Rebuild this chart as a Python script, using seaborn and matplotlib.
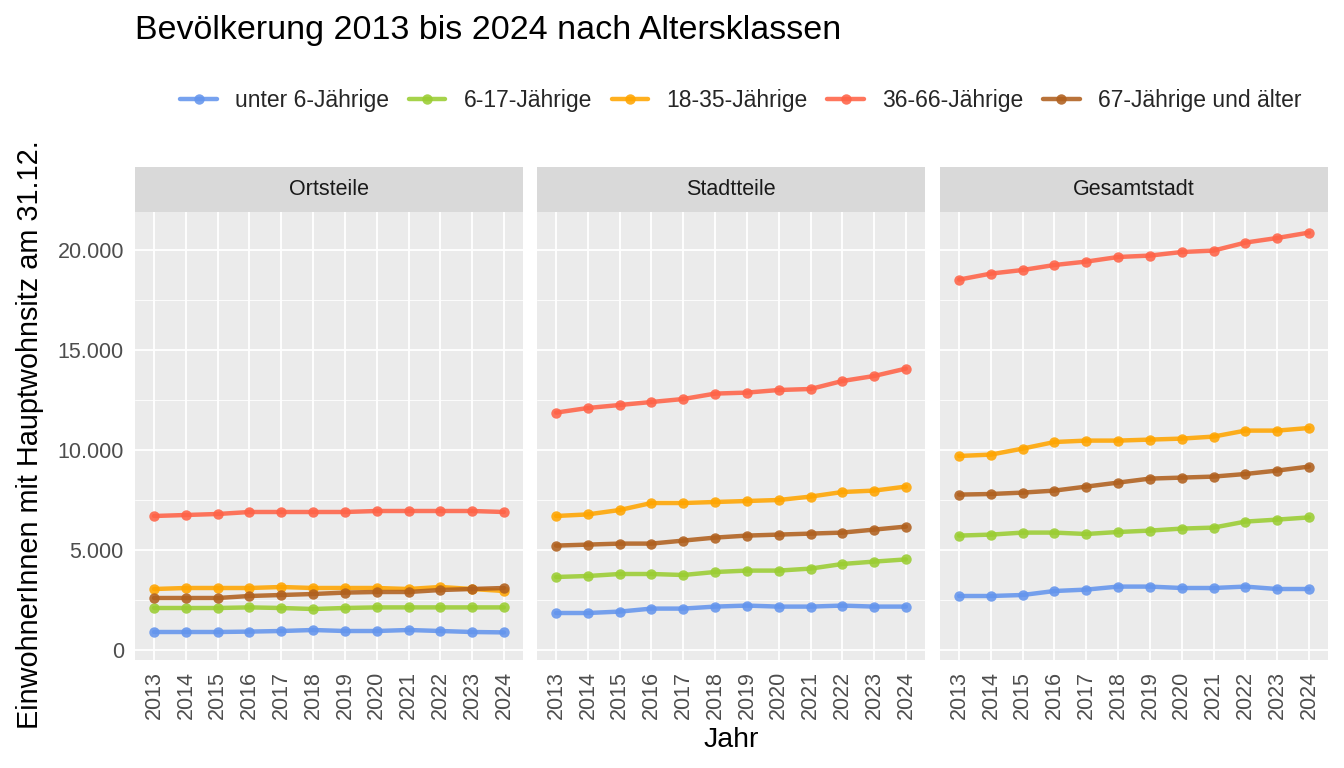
import seaborn as sns
import pandas as pd
import numpy as np
import matplotlib.pyplot as plt
from matplotlib.patches import Rectangle
from matplotlib.lines import Line2D
from matplotlib.ticker import FuncFormatter, MultipleLocator

# --- data ---
years = list(range(2013, 2025))
regions = ["Ortsteile", "Stadtteile", "Gesamtstadt"]
groups = ["unter 6-Jährige", "6-17-Jährige", "18-35-Jährige", "36-66-Jährige", "67-Jährige und älter"]
colors = ["#6495ED", "#9ACD32", "#FFA500", "#FF6347", "#B0601E"]

# Ortsteile
ort_u6 = [900, 900, 900, 920, 950, 1000, 950, 950, 1000, 950, 900, 880]
ort_6_17 = [2100, 2100, 2100, 2130, 2100, 2050, 2100, 2130, 2130, 2130, 2130, 2130]
ort_18_35 = [3050, 3100, 3100, 3100, 3150, 3100, 3100, 3100, 3050, 3150, 3050, 2950]
ort_36_66 = [6700, 6750, 6800, 6900, 6900, 6900, 6900, 6950, 6950, 6950, 6950, 6900]
ort_67 = [2600, 2600, 2600, 2700, 2750, 2800, 2870, 2900, 2900, 3000, 3050, 3100]

# Stadtteile
std_u6 = [1850, 1850, 1920, 2070, 2070, 2170, 2220, 2170, 2170, 2220, 2170, 2170]
std_6_17 = [3650, 3700, 3800, 3800, 3750, 3900, 3970, 3970, 4070, 4300, 4420, 4530]
std_18_35 = [6700, 6780, 7000, 7350, 7350, 7400, 7450, 7500, 7670, 7900, 7970, 8170]
std_36_66 = [11870, 12100, 12250, 12400, 12550, 12820, 12870, 13000, 13050, 13450, 13700, 14070]
std_67 = [5220, 5270, 5320, 5320, 5470, 5620, 5720, 5770, 5820, 5870, 6020, 6170]

# Gesamtstadt
ges_u6 = [2700, 2700, 2750, 2950, 3020, 3170, 3170, 3100, 3100, 3170, 3050, 3050]
ges_6_17 = [5720, 5770, 5870, 5870, 5800, 5900, 5970, 6070, 6120, 6420, 6520, 6630]
ges_18_35 = [9700, 9770, 10070, 10400, 10470, 10470, 10520, 10570, 10670, 10970, 10970, 11100]
ges_36_66 = [18520, 18820, 19000, 19250, 19420, 19650, 19720, 19900, 19970, 20370, 20600, 20870]
ges_67 = [7770, 7800, 7870, 7970, 8170, 8370, 8570, 8620, 8670, 8800, 8970, 9170]

series = {
    "Ortsteile": [ort_u6, ort_6_17, ort_18_35, ort_36_66, ort_67],
    "Stadtteile": [std_u6, std_6_17, std_18_35, std_36_66, std_67],
    "Gesamtstadt": [ges_u6, ges_6_17, ges_18_35, ges_36_66, ges_67],
}

rows = []
for reg in regions:
    for grp, vals in zip(groups, series[reg]):
        for yr, v in zip(years, vals):
            rows.append({"Region": reg, "Gruppe": grp, "Jahr": yr, "Wert": v})
df = pd.DataFrame(rows)

# --- style ---
sns.set_style("white")
plt.rcParams["font.family"] = ["Liberation Sans", "DejaVu Sans"]

W, H = 1344, 768
fig = plt.figure(figsize=(W / 100, H / 100), dpi=100)

panel_left = [135, 537, 940]
panel_w = 388
panel_top, panel_bot = 212, 660
strip_h = 45
palette = dict(zip(groups, colors))

de_fmt = FuncFormatter(lambda v, p: f"{int(v):,}".replace(",", "."))

for i, reg in enumerate(regions):
    ax = fig.add_axes([panel_left[i] / W, 1 - panel_bot / H, panel_w / W, (panel_bot - panel_top) / H])
    ax.set_facecolor("#EBEBEB")
    sub = df[df["Region"] == reg]
    sns.lineplot(data=sub, x="Jahr", y="Wert", hue="Gruppe", hue_order=groups,
                 palette=palette, marker="o", markersize=7.5, markeredgewidth=0,
                 linewidth=3.2, alpha=0.88, estimator=None, legend=False, ax=ax)
    ax.set_xlim(2012.4, 2024.6)
    ax.set_ylim(-500, 21900)
    ax.yaxis.set_major_locator(MultipleLocator(5000))
    ax.yaxis.set_minor_locator(MultipleLocator(2500))
    ax.set_xticks(years)
    ax.set_xticklabels([str(y) for y in years], rotation=90)
    ax.yaxis.set_major_formatter(de_fmt)
    ax.grid(which="major", color="white", linewidth=1.3)
    ax.grid(which="minor", axis="y", color="white", linewidth=0.6)
    ax.set_axisbelow(True)
    for s in ax.spines.values():
        s.set_visible(False)
    ax.tick_params(axis="both", which="major", length=5, width=1.1, color="#333333",
                   labelsize=15.5, labelcolor="#4D4D4D", pad=3)
    ax.tick_params(axis="y", which="minor", length=0)
    if i > 0:
        ax.tick_params(axis="y", which="major", length=0, labelleft=False)
    ax.set_xlabel("")
    ax.set_ylabel("")
    # facet strip
    ax.add_patch(Rectangle((0, 1), 1, strip_h / (panel_bot - panel_top), transform=ax.transAxes,
                           clip_on=False, facecolor="#D9D9D9", edgecolor="none"))
    ax.text(0.5, 1 + strip_h / 2 / (panel_bot - panel_top), reg, transform=ax.transAxes,
            ha="center", va="center", fontsize=15.5, color="#1A1A1A")

# legend
handles = [Line2D([0], [0], color=c, lw=3.2, marker="o", markersize=7.5, markeredgewidth=0, alpha=0.88)
           for c in colors]
fig.legend(handles, groups, loc="center", bbox_to_anchor=(741 / W, 1 - 101 / H), ncol=5,
           frameon=False, fontsize=16.5, handlelength=1.6, handletextpad=0.8, columnspacing=0.85)

fig.text(135 / W, 1 - 31 / H, "Bevölkerung 2013 bis 2024 nach Altersklassen",
         ha="left", va="center", fontsize=24.5, color="black")
fig.text(731 / W, 1 - 740 / H, "Jahr", ha="center", va="center", fontsize=20.5, color="black")
fig.text(30 / W, 1 - 435 / H, "EinwohnerInnen mit Hauptwohnsitz am 31.12.", rotation=90,
         ha="center", va="center", fontsize=20.8, color="black")

fig.savefig("out.png", dpi=100)
